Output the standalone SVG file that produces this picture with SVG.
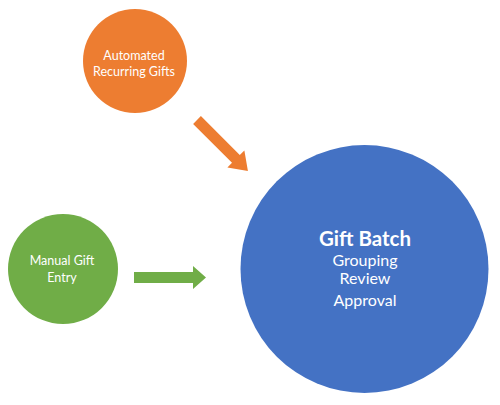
<svg xmlns="http://www.w3.org/2000/svg" width="500" height="405" viewBox="0 0 500 405">
<style>
.lbl{font-family:Lato,"Liberation Sans",sans-serif;fill:#fff;text-anchor:middle}
.s{font-size:12.5px}
.b{font-size:16px}
.t{font-size:20.5px;font-weight:bold}
</style>
<rect width="500" height="405" fill="#fff"/>
<g id="connectors">
<polygon points="0,-5.5 55,-5.5 55,-12 72,0 55,12 55,5.5 0,5.5" fill="#ED7D31" transform="translate(197,120) rotate(45)"/>
<polygon points="134,272 193,272 193,266 206,277.5 193,289 193,283 134,283" fill="#70AD47"/>
</g>
<g id="automated">
<circle cx="135" cy="61" r="52" fill="#ED7D31"/>
<text class="lbl s" x="134" y="60">Automated</text>
<text class="lbl s" x="134" y="76">Recurring Gifts</text>
</g>
<g id="manual">
<circle cx="63" cy="269" r="55" fill="#70AD47"/>
<text class="lbl s" x="62" y="265">Manual Gift</text>
<text class="lbl s" x="62" y="282">Entry</text>
</g>
<g id="batch">
<circle cx="364.5" cy="269" r="124" fill="#4472C4"/>
<text class="lbl t" x="365" y="246">Gift Batch</text>
<text class="lbl b" x="365" y="266">Grouping</text>
<text class="lbl b" x="365" y="284">Review</text>
<text class="lbl b" x="365" y="306">Approval</text>
</g>
</svg>
